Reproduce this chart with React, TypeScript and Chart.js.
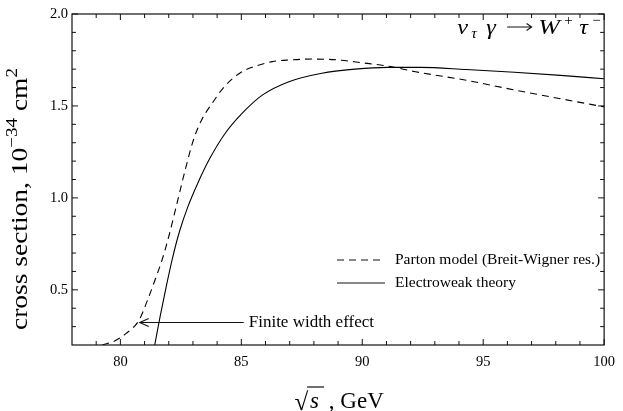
import React, { useEffect, useRef } from "react";
import { Chart, registerables } from "chart.js";

Chart.register(...registerables);

const FAMILY = "'Liberation Serif', 'Times New Roman', serif";

// Parton model (Breit-Wigner resonance) — dashed
const partonX = [79.25, 79.76, 80.23, 80.78, 81.11, 81.45, 81.73, 82.0, 82.34, 82.68, 83.02, 83.36, 83.84, 84.24, 84.93, 85.6, 86.29, 86.97, 87.92, 89.0, 89.96, 91.05, 92.2, 94.24, 96.29, 98.33, 100];
const partonY = [0.2, 0.222, 0.262, 0.337, 0.44, 0.56, 0.665, 0.79, 0.97, 1.152, 1.315, 1.424, 1.523, 1.596, 1.678, 1.717, 1.741, 1.75, 1.755, 1.75, 1.735, 1.717, 1.686, 1.641, 1.587, 1.536, 1.495];

// Electroweak theory — solid
const ewX = [81.42, 81.65, 81.9, 82.15, 82.45, 82.8, 83.2, 83.7, 84.3, 85.0, 85.88, 86.97, 88.33, 89.69, 91.05, 92.41, 94.3, 96.29, 98.2, 100];
const ewY = [0.2, 0.36, 0.52, 0.67, 0.82, 0.955, 1.08, 1.215, 1.345, 1.455, 1.56, 1.632, 1.678, 1.7, 1.71, 1.71, 1.698, 1.683, 1.666, 1.648];

const xMajorTicks = [80, 85, 90, 95, 100];
const xMinorTicks = [79, 81, 82, 83, 84, 86, 87, 88, 89, 91, 92, 93, 94, 96, 97, 98, 99];
const yMajorTicks = [0.5, 1.0, 1.5, 2.0];
const yMinorTicks = [0.3, 0.4, 0.6, 0.7, 0.8, 0.9, 1.1, 1.2, 1.3, 1.4, 1.6, 1.7, 1.8, 1.9];

const legendLabels = ["Parton model (Breit-Wigner res.)", "Electroweak theory"];
const annotationText = "Finite width effect";
const arrowTip = { x: 80.8, y: 0.322 };
const arrowTail = { x: 85.1, y: 0.322 };

type Seg = { t: string; size: number; italic?: boolean; dy?: number };
const fontOf = (s: Seg) => `${s.italic ? "italic " : ""}${s.size}px ${FAMILY}`;
function richWidth(ctx: CanvasRenderingContext2D, segs: Seg[]) {
  let w = 0;
  for (const s of segs) {
    ctx.font = fontOf(s);
    w += ctx.measureText(s.t).width;
  }
  return w;
}
function drawRich(ctx: CanvasRenderingContext2D, segs: Seg[], x: number, y: number) {
  let cx = x;
  for (const s of segs) {
    ctx.font = fontOf(s);
    ctx.fillText(s.t, cx, y + (s.dy || 0));
    cx += ctx.measureText(s.t).width;
  }
  return cx;
}

const decor = {
  id: "decor",
  afterDraw(chart: any) {
    const { ctx, chartArea: a, scales } = chart;
    const xs = scales.x;
    const ys = scales.y;
    ctx.save();
    ctx.strokeStyle = "#111";
    ctx.fillStyle = "#000";
    ctx.lineWidth = 1.2;
    ctx.strokeRect(a.left, a.top, a.right - a.left, a.bottom - a.top);

    ctx.lineWidth = 1;
    ctx.beginPath();
    const xt = (vals: number[], len: number) => {
      for (const v of vals) {
        const px = xs.getPixelForValue(v);
        ctx.moveTo(px, a.bottom);
        ctx.lineTo(px, a.bottom - len);
        ctx.moveTo(px, a.top);
        ctx.lineTo(px, a.top + len);
      }
    };
    const yt = (vals: number[], len: number) => {
      for (const v of vals) {
        const py = ys.getPixelForValue(v);
        ctx.moveTo(a.left, py);
        ctx.lineTo(a.left + len, py);
        ctx.moveTo(a.right, py);
        ctx.lineTo(a.right - len, py);
      }
    };
    xt(xMajorTicks, 6);
    xt(xMinorTicks, 4);
    yt(yMajorTicks, 6);
    yt(yMinorTicks, 4);
    ctx.stroke();

    // process title (top right)
    ctx.textBaseline = "alphabetic";
    ctx.textAlign = "left";
    const t0 = a.right - 147;
    const tb = a.top + 20;
    const piece = (t: string, dx: number, size: number, italic: boolean, dy: number, sx: number) => {
      ctx.save();
      ctx.font = `${italic ? "italic " : ""}${size}px ${FAMILY}`;
      ctx.translate(t0 + dx, tb + dy);
      ctx.scale(sx, 1);
      ctx.fillText(t, 0, 0);
      ctx.restore();
    };
    piece("ν", 0, 22, true, 0, 1.1);
    piece("τ", 14, 15, true, 4, 1.05);
    piece("γ", 29, 22, true, 0, 1.1);
    piece("W", 81, 22, true, 0, 1.18);
    piece("+", 107, 15, false, -9, 1);
    piece("τ", 122, 22, true, 0, 1.1);
    piece("−", 135, 15, false, -9, 1);
    // arrow glyph
    ctx.lineWidth = 1.1;
    ctx.beginPath();
    const ay0 = tb - 7;
    ctx.moveTo(t0 + 50, ay0);
    ctx.lineTo(t0 + 74, ay0);
    ctx.moveTo(t0 + 69.5, ay0 - 3.5);
    ctx.lineTo(t0 + 74.5, ay0);
    ctx.lineTo(t0 + 69.5, ay0 + 3.5);
    ctx.stroke();

    // legend
    const lx0 = a.left + 265;
    const lx1 = a.left + 313;
    const tx = a.left + 323;
    const ly = [a.top + 246, a.top + 269];
    ctx.lineWidth = 1.1;
    ctx.setLineDash([7, 5]);
    ctx.beginPath();
    ctx.moveTo(lx0, ly[0]);
    ctx.lineTo(lx1, ly[0]);
    ctx.stroke();
    ctx.setLineDash([]);
    ctx.beginPath();
    ctx.moveTo(lx0, ly[1]);
    ctx.lineTo(lx1, ly[1]);
    ctx.stroke();
    ctx.font = `15.5px ${FAMILY}`;
    ctx.textBaseline = "middle";
    ctx.fillText(legendLabels[0], tx, ly[0]);
    ctx.fillText(legendLabels[1], tx, ly[1]);

    // annotation arrow
    const ax = xs.getPixelForValue(arrowTip.x);
    const ay = ys.getPixelForValue(arrowTip.y);
    const bx = xs.getPixelForValue(arrowTail.x);
    ctx.beginPath();
    ctx.moveTo(bx, ay);
    ctx.lineTo(ax, ay);
    ctx.moveTo(ax + 9, ay - 4);
    ctx.lineTo(ax, ay);
    ctx.lineTo(ax + 9, ay + 4);
    ctx.stroke();
    ctx.font = `17px ${FAMILY}`;
    ctx.fillText(annotationText, bx + 5, ay);

    // x axis title
    ctx.textBaseline = "alphabetic";
    const xb = 408;
    const rad: Seg = { t: "√", size: 25 };
    const sS: Seg = { t: "s", size: 23, italic: true };
    const rest: Seg = { t: " , GeV", size: 23 };
    ctx.font = fontOf(rad);
    const rw = ctx.measureText(rad.t).width;
    ctx.font = fontOf(sS);
    const sw = ctx.measureText(sS.t).width;
    ctx.font = fontOf(rest);
    const restW = ctx.measureText(rest.t).width;
    const total = rw + 2 + sw + 4 + restW;
    const cx = (a.left + a.right) / 2 - total / 2 + 1;
    ctx.font = fontOf(rad);
    ctx.fillText(rad.t, cx, xb + 2);
    const sx = cx + rw + 2;
    ctx.font = fontOf(sS);
    ctx.fillText(sS.t, sx, xb);
    ctx.lineWidth = 1.2;
    ctx.beginPath();
    ctx.moveTo(cx + rw - 1, xb - 21);
    ctx.lineTo(sx + sw + 5, xb - 21);
    ctx.stroke();
    ctx.font = fontOf(rest);
    ctx.fillText(rest.t, sx + sw + 4, xb);

    // y axis title (rotated)
    const ytitle: Seg[] = [
      { t: "cross section, 10", size: 23 },
      { t: "−34", size: 16, dy: -10 },
      { t: " cm", size: 23 },
      { t: "2", size: 16, dy: -10 },
    ];
    const yw = richWidth(ctx, ytitle);
    const targetLen = 262;
    ctx.translate(27, 199);
    ctx.rotate(-Math.PI / 2);
    ctx.scale(targetLen / yw, 1);
    drawRich(ctx, ytitle, -yw / 2, 0);
    ctx.restore();
  },
};

export default function App() {
  const ref = useRef<HTMLCanvasElement | null>(null);
  useEffect(() => {
    document.body.style.margin = "0";
    const canvas = ref.current;
    if (!canvas) return;
    const chart = new Chart(canvas, {
      type: "scatter",
      data: {
        datasets: [
          {
            label: legendLabels[0],
            data: partonX.map((x, i) => ({ x, y: partonY[i] })),
            showLine: true,
            borderColor: "#000",
            borderWidth: 1.1,
            borderDash: [7, 5],
            pointRadius: 0,
            cubicInterpolationMode: "monotone",
          },
          {
            label: legendLabels[1],
            data: ewX.map((x, i) => ({ x, y: ewY[i] })),
            showLine: true,
            borderColor: "#000",
            borderWidth: 1.1,
            pointRadius: 0,
            cubicInterpolationMode: "monotone",
          },
        ],
      },
      options: {
        responsive: false,
        animation: false,
        layout: { padding: { left: 0, top: 14, right: 13, bottom: 0 } },
        plugins: { legend: { display: false }, tooltip: { enabled: false }, title: { display: false } },
        scales: {
          x: {
            type: "linear",
            min: 78,
            max: 100,
            grid: { display: false, drawTicks: false },
            border: { display: false },
            afterBuildTicks: (s: any) => {
              s.ticks = xMajorTicks.map((v) => ({ value: v }));
            },
            afterFit: (s: any) => {
              s.height = 66;
            },
            ticks: {
              color: "#000",
              padding: 8,
              maxRotation: 0,
              font: { family: FAMILY, size: 14.5 },
              callback: (v: any) => String(v),
            },
          },
          y: {
            type: "linear",
            min: 0.2,
            max: 2.0,
            grid: { display: false, drawTicks: false },
            border: { display: false },
            afterBuildTicks: (s: any) => {
              s.ticks = yMajorTicks.map((v) => ({ value: v }));
            },
            afterFit: (s: any) => {
              s.width = 72;
            },
            ticks: {
              color: "#000",
              padding: 4,
              font: { family: FAMILY, size: 14.5 },
              callback: (v: any) => Number(v).toFixed(1),
            },
          },
        },
      },
      plugins: [decor],
    } as any);
    return () => chart.destroy();
  }, []);
  return (
    <div style={{ width: 623, height: 411, background: "#fff" }}>
      <canvas ref={ref} width={623} height={411} style={{ width: 623, height: 411, display: "block" }} />
    </div>
  );
}
